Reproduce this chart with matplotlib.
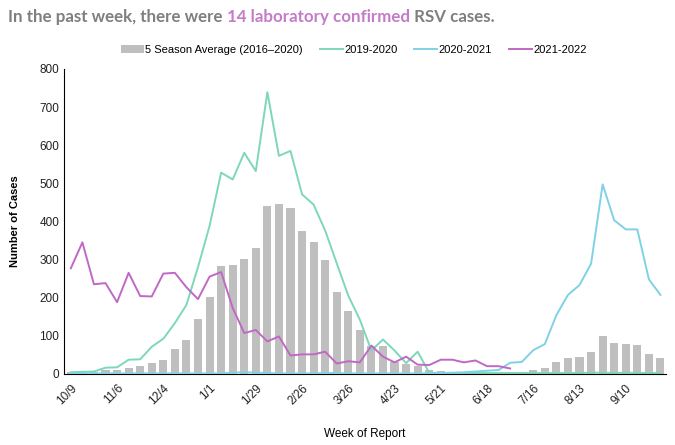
import numpy as np
import matplotlib
matplotlib.use('Agg')
import matplotlib.pyplot as plt

# weekly RSV counts, week 0 = 10/9 ... week 51
avg_5season = [4, 5, 6, 9, 10, 14, 20, 28, 37, 64, 89, 145, 201, 283, 286, 302, 331, 440, 446, 435,
               374, 345, 298, 215, 166, 115, 72, 73, 31, 27, 21, 10, 7, 4, 3, 4, 3, 3, 5, 5,
               11, 14, 31, 41, 45, 57, 99, 81, 77, 75, 51, 42]
s2019_2020 = [4, 5, 6, 16, 17, 37, 38, 71, 92, 133, 181, 280, 388, 528, 510, 580, 532, 739, 572, 585,
              471, 444, 376, 290, 205, 142, 61, 90, 61, 28, 58, 3, 2, 2, 2, 2, 2, 2, 2, 2,
              2, 2, 2, 2, 2, 3, 3, 2, 3, 2, 2, 2]
s2020_2021 = [1, 1, 1, 1, 1, 1, 1, 1, 1, 1, 1, 1, 1, 1, 3, 4, 3, 2, 1, 1,
              1, 1, 2, 2, 1, 1, 1, 1, 1, 1, 1, 1, 2, 3, 4, 6, 8, 10, 29, 31,
              62, 78, 154, 207, 233, 289, 497, 403, 379, 379, 248, 207]
s2021_2022 = [277, 345, 235, 238, 188, 265, 204, 203, 263, 265, 227, 196, 255, 267, 173, 107, 115, 85, 98, 48,
              51, 51, 58, 27, 33, 30, 74, 45, 30, 45, 24, 23, 37, 37, 30, 35, 20, 20, 14]
tick_labels = ['10/9', '11/6', '12/4', '1/1', '1/29', '2/26', '3/26', '4/23', '5/21', '6/18', '7/16', '8/13', '9/10']

weeks = np.arange(len(avg_5season))

plt.rcParams['font.family'] = ['Liberation Sans Narrow', 'Liberation Sans', 'DejaVu Sans']

fig = plt.figure(figsize=(6.75, 4.45), dpi=100)
ax = fig.add_axes([0.095, 0.16, 0.892, 0.685])

b = ax.bar(weeks, avg_5season, width=0.7, color='#bfbfbf', label='5 Season Average (2016–2020)', zorder=1)
l1, = ax.plot(weeks, s2019_2020, color='#7dd8b7', lw=1.4, label='2019-2020', zorder=2)
l2, = ax.plot(weeks, s2020_2021, color='#7fd2e6', lw=1.4, label='2020-2021', zorder=3)
l3, = ax.plot(np.arange(len(s2021_2022)), s2021_2022, color='#c068c4', lw=1.4, label='2021-2022', zorder=4)

ax.set_xlim(-0.58, 51.5)
ax.set_ylim(0, 800)
ax.set_yticks(np.arange(0, 801, 100))
ax.set_xticks(weeks[::4])
ax.set_xticklabels(tick_labels, rotation=45, ha='right', rotation_mode='anchor')
ax.tick_params(axis='both', length=0, labelsize=8.5, colors='#222222')
ax.tick_params(axis='x', pad=6)
for s in ['top', 'right']:
    ax.spines[s].set_visible(False)
ax.spines['left'].set_color('#000000')
ax.spines['bottom'].set_color('#000000')

ax.set_ylabel('Number of Cases', fontsize=8, fontweight='bold', labelpad=14)
ax.set_xlabel('Week of Report', fontsize=8.5, labelpad=15)

fig.legend([b, l1, l2, l3], ['5 Season Average (2016–2020)', '2019-2020', '2020-2021', '2021-2022'],
           loc='center', bbox_to_anchor=(0.524, 0.888), ncol=4, frameon=False, fontsize=8,
           handlelength=2.1, handleheight=0.7, columnspacing=1.5, handletextpad=0.1)

# title in pieces with two colours
parts = [('In the past week, there were ', '#7f7f7f'),
         ('14 laboratory confirmed', '#c47bc8'),
         (' RSV cases.', '#7f7f7f')]
fig.canvas.draw()
r = fig.canvas.get_renderer()
x = 8 / 675
for txt, col in parts:
    t = fig.text(x, 0.962, txt, color=col, fontsize=12.2, fontweight='bold',
                 family=['Lato', 'DejaVu Sans'], va='center', ha='left')
    bb = t.get_window_extent(renderer=r)
    x += bb.width / fig.bbox.width

fig.savefig('out.png', dpi=100)
